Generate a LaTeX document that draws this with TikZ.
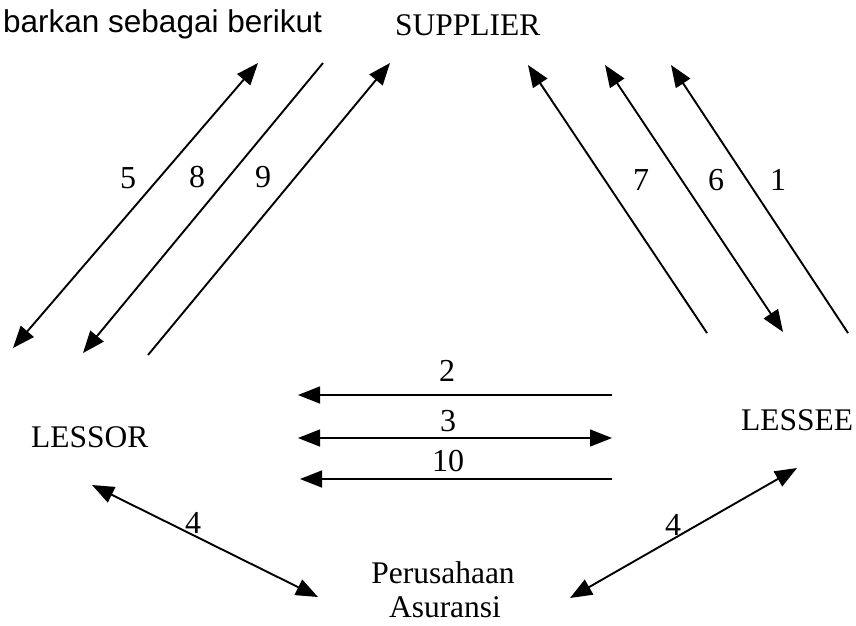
\documentclass[tikz,border=0pt]{standalone}
\usepackage{fontspec}
\setmainfont{Liberation Serif}
\newfontfamily\sansf{Liberation Sans}
\usetikzlibrary{arrows.meta}
\begin{document}
\begin{tikzpicture}[x=1pt,y=-1pt,
  txt/.style={inner sep=0pt,font=\fontsize{31.5}{34}\selectfont},
  lbl/.style={inner sep=0pt,font=\fontsize{32}{34}\selectfont},
  tip/.style={Triangle[length=22pt,width=17pt]},
  conn/.style={line width=1.9pt,-{Triangle[length=22pt,width=17pt]}},
  conn2/.style={line width=1.9pt,{Triangle[length=22pt,width=17pt]}-{Triangle[length=22pt,width=17pt]}},
  hconn/.style={line width=1.5pt,-{Triangle[length=22pt,width=17pt]}},
  hconn2/.style={line width=1.5pt,{Triangle[length=22pt,width=17pt]}-{Triangle[length=22pt,width=17pt]}}]
\useasboundingbox (0,0) rectangle (856,625);
% texts
\node[txt,anchor=base west] (intro) at (3,32) {\sansf barkan sebagai berikut};
\node[txt,anchor=base west] (supplier) at (395,35) {SUPPLIER};
\node[txt,anchor=base west] (lessor) at (31,447) {LESSOR};
\node[txt,anchor=base west] (lessee) at (741,430) {LESSEE};
\node[txt,anchor=base] (perus) at (443,583) {Perusahaan};
\node[txt,anchor=base] (asur) at (445,617) {Asuransi};
% endpoints
\coordinate (a5) at (13,348);  \coordinate (b5) at (258,63);
\coordinate (a8) at (323,63);  \coordinate (b8) at (83,353);
\coordinate (a9) at (148,355); \coordinate (b9) at (390,63);
\coordinate (a7) at (707,333); \coordinate (b7) at (528,65);
\coordinate (a6) at (783,332); \coordinate (b6) at (605,65);
\coordinate (a1) at (848,333); \coordinate (b1) at (671,65);
\coordinate (a2) at (612,395); \coordinate (b2) at (298,395);
\coordinate (a3) at (298,438); \coordinate (b3) at (612,438);
\coordinate (a10) at (612,479); \coordinate (b10) at (300,479);
\coordinate (a4l) at (92,485); \coordinate (b4l) at (318,597);
\coordinate (a4r) at (570,598); \coordinate (b4r) at (797,468);
% connectors
\draw[conn2] (a5) -- (b5);
\draw[conn] (a8) -- (b8);
\draw[conn] (a9) -- (b9);
\draw[conn] (a7) -- (b7);
\draw[conn2] (a6) -- (b6);
\draw[conn] (a1) -- (b1);
\draw[hconn] (a2) -- (b2);
\draw[hconn2] (a3) -- (b3);
\draw[hconn] (a10) -- (b10);
\draw[conn2] (a4l) -- (b4l);
\draw[conn2] (a4r) -- (b4r);
% labels
\node[lbl] (l5) at (128,178) {5};
\node[lbl] (l8) at (197,177) {8};
\node[lbl] (l9) at (263,177) {9};
\node[lbl] (l7) at (641,180) {7};
\node[lbl] (l6) at (716,180) {6};
\node[lbl] (l1) at (778,180) {1};
\node[lbl] (l2) at (447,371) {2};
\node[lbl] (l3) at (448,421) {3};
\node[lbl] (l10) at (448,461) {10};
\node[lbl] (l4l) at (193,523) {4};
\node[lbl] (l4r) at (673,525) {4};
\end{tikzpicture}
\end{document}
